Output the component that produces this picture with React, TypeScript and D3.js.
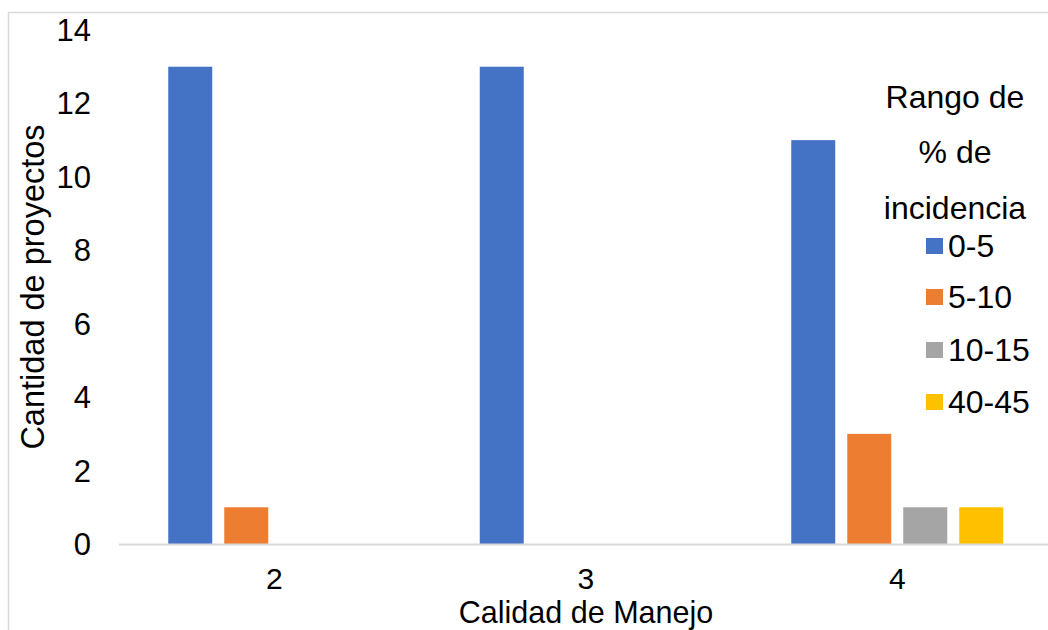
import React from "react";
import * as d3 from "d3";

const categories = ["2", "3", "4"];
const seriesNames = ["0-5", "5-10", "10-15", "40-45"];
const seriesColors = ["#4472C4", "#ED7D31", "#A5A5A5", "#FFC000"];
const values05 = [13, 13, 11];
const values510 = [1, 0, 3];
const values1015 = [0, 0, 1];
const values4045 = [0, 0, 1];
const yTicks = [0, 2, 4, 6, 8, 10, 12, 14];
const legendTitle = ["Rango de", "% de", "incidencia"];
const xTitle = "Calidad de Manejo";
const yTitle = "Cantidad de proyectos";

const seriesValues = [values05, values510, values1015, values4045];

const W = 1048;
const H = 630;
const FONT = "'Liberation Sans', Arial, sans-serif";

export default function App() {
  const y = d3.scaleLinear().domain([0, 14]).range([544, 30]);
  const x0 = d3
    .scaleBand<string>()
    .domain(categories)
    .range([118.5, 1053])
    .paddingInner(0.3194)
    .paddingOuter(0.1597);
  const x1 = d3
    .scaleBand<string>()
    .domain(seriesNames)
    .range([0, x0.bandwidth()])
    .paddingInner(12 / 56)
    .paddingOuter(0);

  const legendTitleCenters = [97, 152, 208];
  const legendItemCenters = [246, 297, 350, 402];

  return (
    <svg
      width={W}
      height={H}
      style={{ position: "absolute", left: 0, top: 0, display: "block" }}
      fontFamily={FONT}
    >
      <rect x={0} y={0} width={W} height={H} fill="#fff" />
      <rect x={8.5} y={12.5} width={W + 20} height={H + 20} fill="none" stroke="#d9d9d9" strokeWidth={1.5} />

      {/* bars */}
      {categories.map((c, ci) => (
        <g key={c} transform={`translate(${x0(c)},0)`}>
          {seriesNames.map((s, si) => {
            const v = seriesValues[si][ci];
            if (!v) return null;
            return (
              <rect
                key={s}
                x={x1(s)}
                y={y(v)}
                width={x1.bandwidth()}
                height={y(0) - y(v)}
                fill={seriesColors[si]}
              />
            );
          })}
        </g>
      ))}

      {/* x axis line */}
      <line x1={119} x2={W} y1={y(0) + 0.5} y2={y(0) + 0.5} stroke="#d9d9d9" strokeWidth={2} />

      {/* y tick labels */}
      {yTicks.map((t) => (
        <text key={t} x={91} y={y(t) + 11} textAnchor="end" fontSize={31} fill="#000">
          {t}
        </text>
      ))}

      {/* x tick labels */}
      {categories.map((c) => (
        <text key={c} x={(x0(c) as number) + x0.bandwidth() / 2} y={588.5} textAnchor="middle" fontSize={30} fill="#000">
          {c}
        </text>
      ))}

      {/* axis titles */}
      <text x={586} y={623} textAnchor="middle" fontSize={30.5} fill="#000">
        {xTitle}
      </text>
      <text transform={`translate(44,287) rotate(-90)`} textAnchor="middle" fontSize={32.5} fill="#000">
        {yTitle}
      </text>

      {/* legend */}
      {legendTitle.map((t, i) => (
        <text key={t} x={955} y={legendTitleCenters[i] + 11} textAnchor="middle" fontSize={32} fill="#000">
          {t}
        </text>
      ))}
      {seriesNames.map((s, i) => (
        <g key={s}>
          <rect x={926} y={legendItemCenters[i] - 8} width={17} height={16} fill={seriesColors[i]} />
          <text x={948} y={legendItemCenters[i] + 11} fontSize={32} fill="#000">
            {s}
          </text>
        </g>
      ))}
    </svg>
  );
}
